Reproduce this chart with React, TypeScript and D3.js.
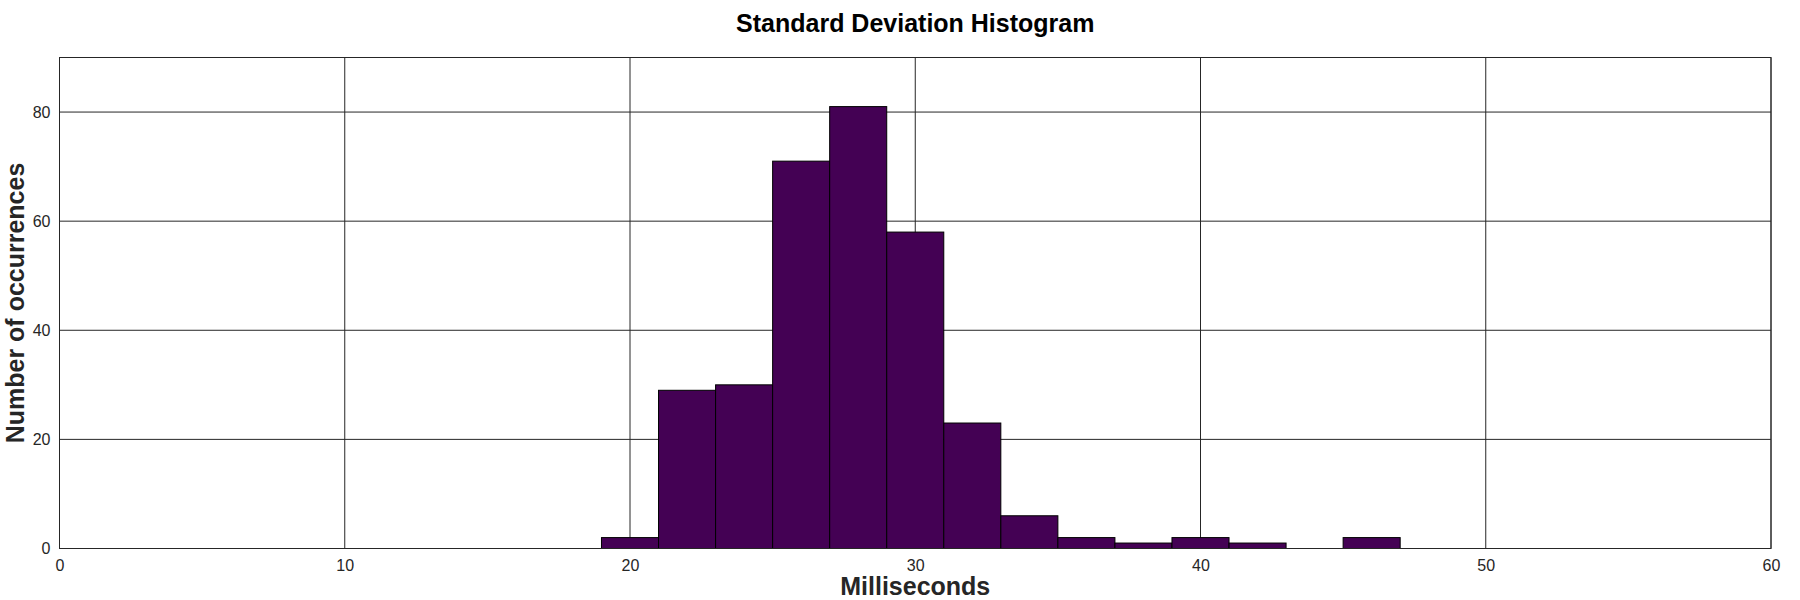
import { useEffect, useRef } from "react"
import * as d3 from "d3"

// Histogram bins (ms), width 2, and counts
const binStarts = [19, 21, 23, 25, 27, 29, 31, 33, 35, 37, 39, 41, 43, 45]
const binWidth = 2
const counts = [2, 29, 30, 71, 81, 58, 23, 6, 2, 1, 2, 1, 0, 2]

const xTicks = [0, 10, 20, 30, 40, 50, 60]
const yTicks = [0, 20, 40, 60, 80]
const xDomain = [0, 60]
const yDomain = [0, 90]

export default function App() {
  const svgRef = useRef<SVGSVGElement>(null)

  useEffect(() => {
    if (!svgRef.current) return
    d3.select(svgRef.current).selectAll("*").remove()

    const W = 1800
    const H = 600
    const margin = { top: 57.5, right: 29, bottom: 51.5, left: 59.5 }
    const width = W - margin.left - margin.right
    const height = H - margin.top - margin.bottom
    const font = "'Liberation Sans', Arial, Helvetica, sans-serif"
    const ink = "#262626"

    const svg = d3.select(svgRef.current).attr("width", W).attr("height", H)

    svg.append("rect").attr("width", W).attr("height", H).attr("fill", "white")

    const g = svg.append("g").attr("transform", `translate(${margin.left},${margin.top})`)

    const x = d3.scaleLinear().domain(xDomain).range([0, width])
    const y = d3.scaleLinear().domain(yDomain).range([height, 0])

    // Grid
    g.append("g")
      .selectAll("line")
      .data(xTicks)
      .enter()
      .append("line")
      .attr("x1", (d) => x(d))
      .attr("x2", (d) => x(d))
      .attr("y1", 0)
      .attr("y2", height)
      .attr("stroke", ink)
      .attr("stroke-width", 1)

    g.append("g")
      .selectAll("line")
      .data(yTicks)
      .enter()
      .append("line")
      .attr("x1", 0)
      .attr("x2", width)
      .attr("y1", (d) => y(d))
      .attr("y2", (d) => y(d))
      .attr("stroke", ink)
      .attr("stroke-width", 1)

    // Bars
    g.append("g")
      .selectAll("rect")
      .data(binStarts.map((s, i) => ({ s, c: counts[i] })).filter((d) => d.c > 0))
      .enter()
      .append("rect")
      .attr("x", (d) => x(d.s))
      .attr("width", (d) => x(d.s + binWidth) - x(d.s))
      .attr("y", (d) => y(d.c))
      .attr("height", (d) => y(0) - y(d.c))
      .attr("fill", "#440154")
      .attr("stroke", "#000")
      .attr("stroke-width", 1)

    // Axes box
    g.append("rect")
      .attr("width", width)
      .attr("height", height)
      .attr("fill", "none")
      .attr("stroke", ink)
      .attr("stroke-width", 1)

    const xAxis = g
      .append("g")
      .attr("transform", `translate(0,${height})`)
      .call(d3.axisBottom(x).tickValues(xTicks).tickSize(0).tickPadding(11).tickFormat(d3.format("d")))
    xAxis.select(".domain").remove()
    xAxis.selectAll("text").attr("fill", ink).style("font-family", font).style("font-size", "16px")

    const yAxis = g
      .append("g")
      .call(d3.axisLeft(y).tickValues(yTicks).tickSize(0).tickPadding(9).tickFormat(d3.format("d")))
    yAxis.select(".domain").remove()
    yAxis.selectAll("text").attr("fill", ink).style("font-family", font).style("font-size", "16px")

    // Title and labels
    svg
      .append("text")
      .attr("x", margin.left + width / 2)
      .attr("y", 32)
      .attr("text-anchor", "middle")
      .attr("fill", "#000")
      .style("font-family", font)
      .style("font-weight", "bold")
      .style("font-size", "25px")
      .text("Standard Deviation Histogram")

    svg
      .append("text")
      .attr("x", margin.left + width / 2)
      .attr("y", 595)
      .attr("text-anchor", "middle")
      .attr("fill", ink)
      .style("font-family", font)
      .style("font-weight", "bold")
      .style("font-size", "25px")
      .text("Milliseconds")

    svg
      .append("text")
      .attr("transform", "rotate(-90)")
      .attr("x", -(margin.top + height / 2))
      .attr("y", 24)
      .attr("text-anchor", "middle")
      .attr("fill", ink)
      .style("font-family", font)
      .style("font-weight", "bold")
      .style("font-size", "25px")
      .text("Number of occurrences")
  }, [])

  return (
    <div style={{ position: "absolute", left: 0, top: 0, width: 1800, height: 600 }}>
      <svg ref={svgRef} style={{ display: "block" }}></svg>
    </div>
  )
}
